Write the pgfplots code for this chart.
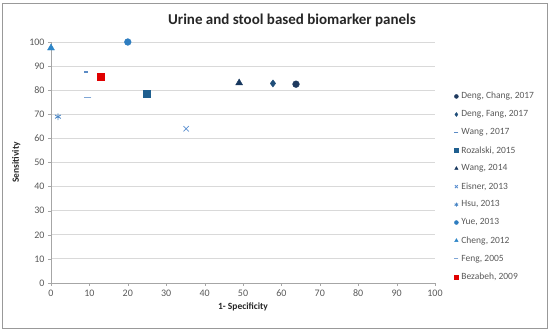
\documentclass[border=0pt]{standalone}
\usepackage{pgfplots}
\pgfplotsset{compat=1.18}
\usepackage{fontspec}
\setmainfont{Carlito}
\definecolor{txt}{HTML}{595959}
\definecolor{gridc}{HTML}{D9D9D9}
\definecolor{cDC}{HTML}{1F3A5F}
\definecolor{cDF}{HTML}{1F4E79}
\definecolor{cW17}{HTML}{5B8BC5}
\definecolor{cRoz}{HTML}{1F5F8F}
\definecolor{cW14}{HTML}{17375E}
\definecolor{cEis}{HTML}{5B8FD0}
\definecolor{cHsu}{HTML}{4A86C5}
\definecolor{cYue}{HTML}{2E7DC0}
\definecolor{cChe}{HTML}{2E86C8}
\definecolor{cFeng}{HTML}{7FA6D6}
\definecolor{cBez}{HTML}{E00000}
\begin{document}
\begin{tikzpicture}[x=1pt,y=1pt]
\useasboundingbox (0,0) rectangle (550,331);
\draw[color=gray!80, line width=0.8pt] (2,3) rectangle (547,328);
\node[font=\fontsize{15}{18}\selectfont\bfseries, text=black!85] at (292,311) {Urine and stool based biomarker panels};
\begin{axis}[
  at={(51pt,48pt)}, anchor=south west,
  scale only axis, width=384pt, height=241pt,
  xmin=0, xmax=100, ymin=0, ymax=100,
  xtick={0,10,...,100}, ytick={0,10,...,100},
  axis x line*=bottom, axis y line*=left,
  axis line style={color=gray!70, line width=0.6pt},
  x axis line style={-}, y axis line style={-},
  ymajorgrids, grid style={color=gridc, line width=0.8pt},
  tick style={color=gray!70}, major tick length=3pt, tick align=outside,
  ticklabel style={font=\fontsize{10}{12}\selectfont, text=txt},
  /pgf/number format/assume math mode=true,
  xlabel={\bfseries 1- Specificity}, ylabel={\bfseries Sensitivity},
  label style={font=\fontsize{9.5}{11}\selectfont, text=black!85},
  ylabel style={yshift=2pt},
  clip=false,
  legend style={at={(axis description cs:1.05,0.80)}, anchor=north west, draw=none, fill=none,
    font=\fontsize{9.5}{11}\selectfont, text=txt, row sep=6.2pt, inner sep=0pt,
    nodes={inner xsep=3pt}},
  legend cell align=left,
  legend image code/.code={\draw[#1, mark size=2pt] plot coordinates {(0.1cm,0cm)};},
]
\addplot[only marks, mark=*, mark size=3.4pt, color=cDC] coordinates {(63.8,82.5)};
\addlegendentry{Deng, Chang, 2017}
\addplot[only marks, mark=diamond*, mark size=3.6pt, color=cDF] coordinates {(57.8,82.8)};
\addlegendentry{Deng, Fang, 2017}
\addplot[only marks, mark=-, mark size=1.6pt, color=cW17, mark options={line width=1.4pt}] coordinates {(9.1,87.5)};
\addlegendentry{Wang , 2017}
\addplot[only marks, mark=square*, mark size=3.4pt, color=cRoz] coordinates {(25,78.5)};
\addlegendentry{Rozalski, 2015}
\addplot[only marks, mark=triangle*, mark size=4pt, color=cW14] coordinates {(49,83)};
\addlegendentry{Wang, 2014}
\addplot[only marks, mark=x, mark size=3.8pt, color=cEis, mark options={line width=0.8pt}] coordinates {(35.2,64)};
\addlegendentry{Eisner, 2013}
\addplot[only marks, mark=asterisk, mark size=3.4pt, color=cHsu, mark options={line width=0.8pt}] coordinates {(1.8,69)};
\addlegendentry{Hsu, 2013}
\addplot[only marks, mark=*, mark size=3.4pt, color=cYue] coordinates {(20,100)};
\addlegendentry{Yue, 2013}
\addplot[only marks, mark=triangle*, mark size=4pt, color=cChe] coordinates {(0,97.5)};
\addlegendentry{Cheng, 2012}
\addplot[only marks, mark=-, mark size=3.4pt, color=cFeng, mark options={line width=1.2pt}] coordinates {(9.6,77)};
\addlegendentry{Feng, 2005}
\addplot[only marks, mark=square*, mark size=3.4pt, color=cBez] coordinates {(13,85.5)};
\addlegendentry{Bezabeh, 2009}
\end{axis}
\end{tikzpicture}
\end{document}
